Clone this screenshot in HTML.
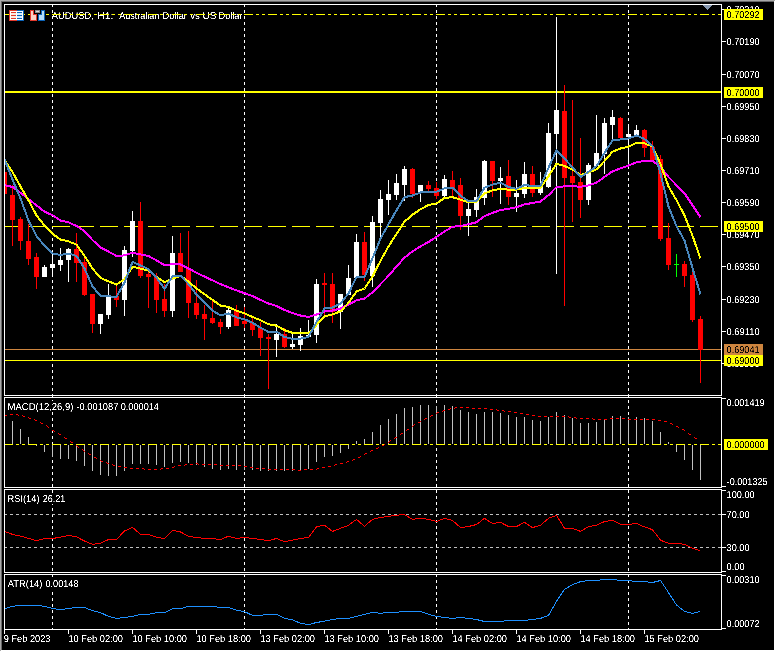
<!DOCTYPE html>
<html lang="en"><head><meta charset="utf-8"><title>AUDUSD, H1</title>
<style>html,body{margin:0;padding:0;background:#000;overflow:hidden}svg{display:block}text{text-rendering:geometricPrecision}</style>
</head><body>
<svg width="776" height="652" viewBox="0 0 776 652" shape-rendering="crispEdges" font-family='"Liberation Sans", sans-serif' font-size="10px">
<rect x="0" y="0" width="776" height="652" fill="#000"/>
<defs><filter id="crisp" x="0" y="0" width="776" height="652" filterUnits="userSpaceOnUse" color-interpolation-filters="sRGB"><feComponentTransfer><feFuncA type="linear" slope="2.5" intercept="-0.6749999999999998"/></feComponentTransfer></filter></defs>
<rect x="0" y="0" width="776" height="1" fill="#a8a8a8"/>
<rect x="0" y="0" width="1" height="652" fill="#a8a8a8"/>
<rect x="1" y="1" width="774" height="1" fill="#696969"/>
<rect x="1" y="1" width="1" height="650" fill="#696969"/>
<rect x="1" y="650" width="775" height="1" fill="#fff"/>
<rect x="0" y="651" width="776" height="1" fill="#fff"/>
<rect x="774" y="1" width="1" height="651" fill="#fff"/>
<rect x="775" y="0" width="1" height="652" fill="#fff"/>
<line x1="52.5" y1="5" x2="52.5" y2="629" stroke="#fff" stroke-width="1" stroke-dasharray="3 3" stroke-dashoffset="1"/>
<line x1="244.5" y1="5" x2="244.5" y2="629" stroke="#fff" stroke-width="1" stroke-dasharray="3 3" stroke-dashoffset="1"/>
<line x1="436.5" y1="5" x2="436.5" y2="629" stroke="#fff" stroke-width="1" stroke-dasharray="3 3" stroke-dashoffset="1"/>
<line x1="628.5" y1="5" x2="628.5" y2="629" stroke="#fff" stroke-width="1" stroke-dasharray="3 3" stroke-dashoffset="1"/>
<rect x="5" y="91" width="716" height="2" fill="#ff0"/>
<line x1="5" y1="226.5" x2="721" y2="226.5" stroke="#ff0" stroke-width="1" stroke-dasharray="18 6" stroke-dashoffset="1"/>
<line x1="5" y1="349.5" x2="721" y2="349.5" stroke="#cd853f" stroke-width="1"/>
<line x1="5" y1="360.5" x2="721" y2="360.5" stroke="#ff0" stroke-width="1"/>
<rect x="4" y="172" width="1" height="22" fill="#f00"/>
<rect x="2" y="172" width="5" height="22" fill="#f00"/>
<rect x="12" y="185" width="1" height="61" fill="#f00"/>
<rect x="10" y="195" width="5" height="25" fill="#f00"/>
<rect x="20" y="217" width="1" height="33" fill="#f00"/>
<rect x="18" y="219" width="5" height="22" fill="#f00"/>
<rect x="28" y="224" width="1" height="41" fill="#f00"/>
<rect x="26" y="241" width="5" height="18" fill="#f00"/>
<rect x="36" y="253" width="1" height="36" fill="#f00"/>
<rect x="34" y="257" width="5" height="20" fill="#f00"/>
<rect x="44" y="265" width="1" height="12" fill="#fff"/>
<rect x="42" y="267" width="5" height="10" fill="#fff"/>
<rect x="52" y="250" width="1" height="27" fill="#fff"/>
<rect x="50" y="264" width="5" height="4" fill="#fff"/>
<rect x="60" y="248" width="1" height="23" fill="#fff"/>
<rect x="58" y="260" width="5" height="5" fill="#fff"/>
<rect x="68" y="248" width="1" height="34" fill="#fff"/>
<rect x="66" y="249" width="5" height="11" fill="#fff"/>
<rect x="76" y="233" width="1" height="49" fill="#f00"/>
<rect x="74" y="249" width="5" height="14" fill="#f00"/>
<rect x="84" y="258" width="1" height="38" fill="#f00"/>
<rect x="82" y="262" width="5" height="33" fill="#f00"/>
<rect x="92" y="294" width="1" height="39" fill="#f00"/>
<rect x="90" y="294" width="5" height="30" fill="#f00"/>
<rect x="100" y="314" width="1" height="20" fill="#fff"/>
<rect x="98" y="314" width="5" height="10" fill="#fff"/>
<rect x="108" y="284" width="1" height="35" fill="#fff"/>
<rect x="106" y="297" width="5" height="18" fill="#fff"/>
<rect x="116" y="286" width="1" height="21" fill="#f00"/>
<rect x="114" y="296" width="5" height="4" fill="#f00"/>
<rect x="124" y="246" width="1" height="70" fill="#fff"/>
<rect x="122" y="250" width="5" height="50" fill="#fff"/>
<rect x="132" y="211" width="1" height="46" fill="#fff"/>
<rect x="130" y="221" width="5" height="30" fill="#fff"/>
<rect x="140" y="202" width="1" height="76" fill="#f00"/>
<rect x="138" y="221" width="5" height="55" fill="#f00"/>
<rect x="148" y="272" width="1" height="36" fill="#f00"/>
<rect x="146" y="274" width="5" height="3" fill="#f00"/>
<rect x="156" y="273" width="1" height="40" fill="#f00"/>
<rect x="154" y="277" width="5" height="23" fill="#f00"/>
<rect x="164" y="284" width="1" height="33" fill="#f00"/>
<rect x="162" y="299" width="5" height="12" fill="#f00"/>
<rect x="172" y="236" width="1" height="81" fill="#fff"/>
<rect x="170" y="253" width="5" height="58" fill="#fff"/>
<rect x="180" y="233" width="1" height="39" fill="#f00"/>
<rect x="178" y="253" width="5" height="19" fill="#f00"/>
<rect x="188" y="231" width="1" height="87" fill="#f00"/>
<rect x="186" y="269" width="5" height="34" fill="#f00"/>
<rect x="196" y="280" width="1" height="39" fill="#f00"/>
<rect x="194" y="303" width="5" height="12" fill="#f00"/>
<rect x="204" y="305" width="1" height="35" fill="#f00"/>
<rect x="202" y="314" width="5" height="5" fill="#f00"/>
<rect x="212" y="301" width="1" height="23" fill="#f00"/>
<rect x="210" y="318" width="5" height="5" fill="#f00"/>
<rect x="220" y="319" width="1" height="15" fill="#f00"/>
<rect x="218" y="322" width="5" height="5" fill="#f00"/>
<rect x="228" y="308" width="1" height="21" fill="#fff"/>
<rect x="226" y="310" width="5" height="17" fill="#fff"/>
<rect x="236" y="305" width="1" height="21" fill="#f00"/>
<rect x="234" y="311" width="5" height="15" fill="#f00"/>
<rect x="244" y="307" width="1" height="21" fill="#f00"/>
<rect x="242" y="321" width="5" height="3" fill="#f00"/>
<rect x="252" y="318" width="1" height="18" fill="#f00"/>
<rect x="250" y="323" width="5" height="7" fill="#f00"/>
<rect x="260" y="322" width="1" height="34" fill="#f00"/>
<rect x="258" y="328" width="5" height="10" fill="#f00"/>
<rect x="268" y="334" width="1" height="55" fill="#f00"/>
<rect x="266" y="337" width="5" height="2" fill="#f00"/>
<rect x="276" y="324" width="1" height="33" fill="#fff"/>
<rect x="274" y="334" width="5" height="6" fill="#fff"/>
<rect x="284" y="328" width="1" height="20" fill="#f00"/>
<rect x="282" y="334" width="5" height="13" fill="#f00"/>
<rect x="292" y="334" width="1" height="15" fill="#fff"/>
<rect x="290" y="344" width="5" height="3" fill="#fff"/>
<rect x="300" y="328" width="1" height="23" fill="#fff"/>
<rect x="298" y="336" width="5" height="9" fill="#fff"/>
<rect x="308" y="320" width="1" height="17" fill="#fff"/>
<rect x="306" y="335" width="5" height="2" fill="#fff"/>
<rect x="316" y="279" width="1" height="64" fill="#fff"/>
<rect x="314" y="284" width="5" height="51" fill="#fff"/>
<rect x="324" y="273" width="1" height="42" fill="#f00"/>
<rect x="322" y="283" width="5" height="2" fill="#f00"/>
<rect x="332" y="273" width="1" height="50" fill="#f00"/>
<rect x="330" y="284" width="5" height="28" fill="#f00"/>
<rect x="340" y="294" width="1" height="35" fill="#fff"/>
<rect x="338" y="294" width="5" height="18" fill="#fff"/>
<rect x="348" y="265" width="1" height="30" fill="#fff"/>
<rect x="346" y="278" width="5" height="17" fill="#fff"/>
<rect x="356" y="234" width="1" height="44" fill="#fff"/>
<rect x="354" y="242" width="5" height="36" fill="#fff"/>
<rect x="364" y="232" width="1" height="49" fill="#f00"/>
<rect x="362" y="242" width="5" height="33" fill="#f00"/>
<rect x="372" y="216" width="1" height="71" fill="#fff"/>
<rect x="370" y="222" width="5" height="54" fill="#fff"/>
<rect x="380" y="190" width="1" height="47" fill="#fff"/>
<rect x="378" y="199" width="5" height="24" fill="#fff"/>
<rect x="388" y="180" width="1" height="35" fill="#fff"/>
<rect x="386" y="194" width="5" height="6" fill="#fff"/>
<rect x="396" y="174" width="1" height="26" fill="#fff"/>
<rect x="394" y="183" width="5" height="12" fill="#fff"/>
<rect x="404" y="166" width="1" height="35" fill="#fff"/>
<rect x="402" y="169" width="5" height="16" fill="#fff"/>
<rect x="412" y="168" width="1" height="30" fill="#f00"/>
<rect x="410" y="169" width="5" height="25" fill="#f00"/>
<rect x="420" y="185" width="1" height="17" fill="#fff"/>
<rect x="418" y="185" width="5" height="7" fill="#fff"/>
<rect x="428" y="181" width="1" height="10" fill="#f00"/>
<rect x="426" y="185" width="5" height="4" fill="#f00"/>
<rect x="436" y="182" width="1" height="17" fill="#f00"/>
<rect x="434" y="188" width="5" height="8" fill="#f00"/>
<rect x="444" y="175" width="1" height="22" fill="#fff"/>
<rect x="442" y="179" width="5" height="17" fill="#fff"/>
<rect x="452" y="171" width="1" height="25" fill="#f00"/>
<rect x="450" y="180" width="5" height="8" fill="#f00"/>
<rect x="460" y="178" width="1" height="52" fill="#f00"/>
<rect x="458" y="185" width="5" height="31" fill="#f00"/>
<rect x="468" y="201" width="1" height="35" fill="#fff"/>
<rect x="466" y="209" width="5" height="7" fill="#fff"/>
<rect x="476" y="189" width="1" height="28" fill="#fff"/>
<rect x="474" y="197" width="5" height="13" fill="#fff"/>
<rect x="484" y="160" width="1" height="45" fill="#fff"/>
<rect x="482" y="161" width="5" height="37" fill="#fff"/>
<rect x="492" y="161" width="1" height="36" fill="#f00"/>
<rect x="490" y="161" width="5" height="20" fill="#f00"/>
<rect x="500" y="167" width="1" height="37" fill="#fff"/>
<rect x="498" y="178" width="5" height="3" fill="#fff"/>
<rect x="508" y="160" width="1" height="45" fill="#f00"/>
<rect x="506" y="176" width="5" height="21" fill="#f00"/>
<rect x="516" y="180" width="1" height="32" fill="#fff"/>
<rect x="514" y="193" width="5" height="4" fill="#fff"/>
<rect x="524" y="162" width="1" height="36" fill="#fff"/>
<rect x="522" y="174" width="5" height="20" fill="#fff"/>
<rect x="532" y="166" width="1" height="31" fill="#f00"/>
<rect x="530" y="174" width="5" height="19" fill="#f00"/>
<rect x="540" y="172" width="1" height="23" fill="#fff"/>
<rect x="538" y="186" width="5" height="7" fill="#fff"/>
<rect x="548" y="123" width="1" height="65" fill="#fff"/>
<rect x="546" y="133" width="5" height="54" fill="#fff"/>
<rect x="556" y="17" width="1" height="257" fill="#fff"/>
<rect x="554" y="110" width="5" height="24" fill="#fff"/>
<rect x="564" y="85" width="1" height="221" fill="#f00"/>
<rect x="562" y="111" width="5" height="67" fill="#f00"/>
<rect x="572" y="100" width="1" height="122" fill="#f00"/>
<rect x="570" y="176" width="5" height="7" fill="#f00"/>
<rect x="580" y="138" width="1" height="80" fill="#f00"/>
<rect x="578" y="182" width="5" height="18" fill="#f00"/>
<rect x="588" y="163" width="1" height="42" fill="#fff"/>
<rect x="586" y="165" width="5" height="35" fill="#fff"/>
<rect x="596" y="115" width="1" height="51" fill="#fff"/>
<rect x="594" y="153" width="5" height="13" fill="#fff"/>
<rect x="604" y="118" width="1" height="56" fill="#fff"/>
<rect x="602" y="123" width="5" height="31" fill="#fff"/>
<rect x="612" y="110" width="1" height="29" fill="#fff"/>
<rect x="610" y="117" width="5" height="8" fill="#fff"/>
<rect x="620" y="117" width="1" height="21" fill="#f00"/>
<rect x="618" y="118" width="5" height="20" fill="#f00"/>
<rect x="628" y="124" width="1" height="40" fill="#fff"/>
<rect x="626" y="134" width="5" height="3" fill="#fff"/>
<rect x="636" y="125" width="1" height="10" fill="#fff"/>
<rect x="634" y="130" width="5" height="5" fill="#fff"/>
<rect x="644" y="129" width="1" height="28" fill="#f00"/>
<rect x="642" y="130" width="5" height="18" fill="#f00"/>
<rect x="652" y="141" width="1" height="19" fill="#f00"/>
<rect x="650" y="147" width="5" height="13" fill="#f00"/>
<rect x="660" y="155" width="1" height="86" fill="#f00"/>
<rect x="658" y="159" width="5" height="80" fill="#f00"/>
<rect x="668" y="223" width="1" height="47" fill="#f00"/>
<rect x="666" y="238" width="5" height="27" fill="#f00"/>
<rect x="676" y="254" width="1" height="23" fill="#0f0"/>
<rect x="674" y="264" width="5" height="1" fill="#0f0"/>
<rect x="684" y="261" width="1" height="26" fill="#f00"/>
<rect x="682" y="264" width="5" height="12" fill="#f00"/>
<rect x="692" y="272" width="1" height="50" fill="#f00"/>
<rect x="690" y="275" width="5" height="45" fill="#f00"/>
<rect x="700" y="316" width="1" height="67" fill="#f00"/>
<rect x="698" y="319" width="5" height="31" fill="#f00"/>
<polyline points="5.0,185.2 12.5,187.0 20.5,192.8 28.5,199.0 36.5,205.4 44.5,211.6 52.5,215.2 60.5,220.5 68.5,222.3 76.5,226.0 84.5,231.2 92.5,240.0 100.5,247.6 108.5,251.6 116.5,256.0 124.5,255.4 132.5,252.8 140.5,254.4 148.5,256.0 156.5,260.4 164.5,265.2 172.5,264.2 180.5,264.5 188.5,268.4 196.5,272.8 204.5,276.6 212.5,280.4 220.5,284.1 228.5,287.3 236.5,290.4 244.5,293.2 252.5,296.0 260.5,299.9 268.5,303.5 276.5,306.0 284.5,310.0 292.5,313.0 300.5,315.5 308.5,317.0 316.5,314.5 324.5,311.5 332.5,310.5 340.5,308.5 348.5,304.7 356.5,300.3 364.5,298.6 372.5,292.3 380.5,284.1 388.5,275.9 396.5,266.5 404.5,257.7 412.5,251.4 420.5,246.4 428.5,242.0 436.5,236.8 444.5,231.5 452.5,226.7 460.5,226.1 468.5,224.2 476.5,222.3 484.5,216.1 492.5,212.9 500.5,210.1 508.5,208.9 516.5,207.2 524.5,204.4 532.5,203.0 540.5,201.5 548.5,195.2 556.5,187.0 564.5,186.4 572.5,186.2 580.5,186.8 588.5,185.4 596.5,182.6 604.5,177.0 612.5,171.3 620.5,168.4 628.5,165.5 636.5,162.3 644.5,161.0 652.5,160.7 660.5,167.0 668.5,177.0 676.5,185.1 684.5,193.3 692.5,205.2 700.5,217.2" fill="none" stroke="#f0f" stroke-width="2"/>
<polyline points="5.0,161.0 12.5,172.0 20.5,186.5 28.5,200.3 36.5,215.4 44.5,225.5 52.5,233.9 60.5,239.5 68.5,241.4 76.5,244.6 84.5,255.9 92.5,268.5 100.5,278.0 108.5,281.3 116.5,284.5 124.5,279.4 132.5,266.7 140.5,268.6 148.5,270.5 156.5,276.8 164.5,282.0 172.5,278.8 180.5,275.7 188.5,281.6 196.5,288.5 204.5,294.2 212.5,299.9 220.5,305.5 228.5,307.0 236.5,310.8 244.5,313.3 252.5,317.0 260.5,320.2 268.5,324.2 276.5,325.7 284.5,330.1 292.5,332.9 300.5,333.5 308.5,333.3 316.5,325.1 324.5,316.3 332.5,314.4 340.5,311.3 348.5,302.9 356.5,291.5 364.5,288.5 372.5,276.6 380.5,260.8 388.5,246.4 396.5,234.0 404.5,221.7 412.5,214.7 420.5,209.3 428.5,205.0 436.5,203.4 444.5,198.0 452.5,197.2 460.5,199.7 468.5,202.2 476.5,201.6 484.5,193.4 492.5,190.3 500.5,189.0 508.5,189.6 516.5,189.6 524.5,188.0 532.5,187.8 540.5,187.7 548.5,176.4 556.5,163.7 564.5,166.0 572.5,169.6 580.5,175.0 588.5,172.6 596.5,169.4 604.5,161.0 612.5,151.7 620.5,148.5 628.5,146.6 636.5,142.8 644.5,143.4 652.5,146.6 660.5,164.0 668.5,186.4 676.5,200.2 684.5,215.3 692.5,235.8 700.5,258.5" fill="none" stroke="#ff0" stroke-width="2"/>
<polyline points="4.5,159.4 12.5,179.6 20.5,198.4 28.5,220.5 36.5,236.0 44.5,245.8 52.5,253.4 60.5,255.0 68.5,253.6 76.5,255.9 84.5,268.5 92.5,286.5 100.5,295.8 108.5,296.4 116.5,296.7 124.5,282.6 132.5,261.9 140.5,265.4 148.5,269.2 156.5,277.7 164.5,288.9 172.5,276.3 180.5,275.7 188.5,284.1 196.5,294.8 204.5,302.4 212.5,310.8 220.5,315.2 228.5,313.5 236.5,317.3 244.5,319.3 252.5,322.7 260.5,327.8 268.5,331.9 276.5,331.6 284.5,337.0 292.5,338.9 300.5,338.7 308.5,337.0 316.5,322.0 324.5,308.5 332.5,307.5 340.5,303.5 348.5,293.4 356.5,277.0 364.5,277.2 372.5,258.3 380.5,238.7 388.5,224.2 396.5,210.3 404.5,197.1 412.5,195.5 420.5,192.5 428.5,191.7 436.5,191.7 444.5,188.4 452.5,187.7 460.5,195.9 468.5,201.0 476.5,201.0 484.5,187.7 492.5,184.6 500.5,182.7 508.5,187.1 516.5,188.8 524.5,185.0 532.5,186.0 540.5,185.8 548.5,167.8 556.5,150.4 564.5,158.6 572.5,167.4 580.5,177.0 588.5,172.0 596.5,166.2 604.5,152.9 612.5,140.3 620.5,139.4 628.5,138.4 636.5,135.5 644.5,139.0 652.5,146.0 660.5,173.4 668.5,206.5 676.5,226.2 684.5,240.6 692.5,268.0 700.5,294.5" fill="none" stroke="#4886bc" stroke-width="2"/>
<line x1="5" y1="444.5" x2="721" y2="444.5" stroke="#ff0" stroke-width="1" stroke-dasharray="9 3 3 3 3 3" stroke-dashoffset="1"/>
<rect x="12" y="421" width="1" height="23" fill="#c0c0c0"/>
<rect x="20" y="429" width="1" height="15" fill="#c0c0c0"/>
<rect x="28" y="437" width="1" height="7" fill="#c0c0c0"/>
<rect x="36" y="445" width="1" height="1" fill="#c0c0c0"/>
<rect x="44" y="445" width="1" height="7" fill="#c0c0c0"/>
<rect x="52" y="445" width="1" height="12" fill="#c0c0c0"/>
<rect x="60" y="445" width="1" height="14" fill="#c0c0c0"/>
<rect x="68" y="445" width="1" height="14" fill="#c0c0c0"/>
<rect x="76" y="445" width="1" height="16" fill="#c0c0c0"/>
<rect x="84" y="445" width="1" height="21" fill="#c0c0c0"/>
<rect x="92" y="445" width="1" height="26" fill="#c0c0c0"/>
<rect x="100" y="445" width="1" height="30" fill="#c0c0c0"/>
<rect x="108" y="445" width="1" height="31" fill="#c0c0c0"/>
<rect x="116" y="445" width="1" height="31" fill="#c0c0c0"/>
<rect x="124" y="445" width="1" height="26" fill="#c0c0c0"/>
<rect x="132" y="445" width="1" height="19" fill="#c0c0c0"/>
<rect x="140" y="445" width="1" height="19" fill="#c0c0c0"/>
<rect x="148" y="445" width="1" height="19" fill="#c0c0c0"/>
<rect x="156" y="445" width="1" height="20" fill="#c0c0c0"/>
<rect x="164" y="445" width="1" height="22" fill="#c0c0c0"/>
<rect x="172" y="445" width="1" height="18" fill="#c0c0c0"/>
<rect x="180" y="445" width="1" height="17" fill="#c0c0c0"/>
<rect x="188" y="445" width="1" height="18" fill="#c0c0c0"/>
<rect x="196" y="445" width="1" height="20" fill="#c0c0c0"/>
<rect x="204" y="445" width="1" height="22" fill="#c0c0c0"/>
<rect x="212" y="445" width="1" height="24" fill="#c0c0c0"/>
<rect x="220" y="445" width="1" height="25" fill="#c0c0c0"/>
<rect x="228" y="445" width="1" height="24" fill="#c0c0c0"/>
<rect x="236" y="445" width="1" height="25" fill="#c0c0c0"/>
<rect x="244" y="445" width="1" height="25" fill="#c0c0c0"/>
<rect x="252" y="445" width="1" height="25" fill="#c0c0c0"/>
<rect x="260" y="445" width="1" height="26" fill="#c0c0c0"/>
<rect x="268" y="445" width="1" height="26" fill="#c0c0c0"/>
<rect x="276" y="445" width="1" height="26" fill="#c0c0c0"/>
<rect x="284" y="445" width="1" height="26" fill="#c0c0c0"/>
<rect x="292" y="445" width="1" height="26" fill="#c0c0c0"/>
<rect x="300" y="445" width="1" height="25" fill="#c0c0c0"/>
<rect x="308" y="445" width="1" height="24" fill="#c0c0c0"/>
<rect x="316" y="445" width="1" height="17" fill="#c0c0c0"/>
<rect x="324" y="445" width="1" height="12" fill="#c0c0c0"/>
<rect x="332" y="445" width="1" height="11" fill="#c0c0c0"/>
<rect x="340" y="445" width="1" height="8" fill="#c0c0c0"/>
<rect x="348" y="445" width="1" height="4" fill="#c0c0c0"/>
<rect x="356" y="441" width="1" height="3" fill="#c0c0c0"/>
<rect x="364" y="439" width="1" height="5" fill="#c0c0c0"/>
<rect x="372" y="432" width="1" height="12" fill="#c0c0c0"/>
<rect x="380" y="425" width="1" height="19" fill="#c0c0c0"/>
<rect x="388" y="419" width="1" height="25" fill="#c0c0c0"/>
<rect x="396" y="414" width="1" height="30" fill="#c0c0c0"/>
<rect x="404" y="408" width="1" height="36" fill="#c0c0c0"/>
<rect x="412" y="407" width="1" height="37" fill="#c0c0c0"/>
<rect x="420" y="405" width="1" height="39" fill="#c0c0c0"/>
<rect x="428" y="405" width="1" height="39" fill="#c0c0c0"/>
<rect x="436" y="406" width="1" height="38" fill="#c0c0c0"/>
<rect x="444" y="405" width="1" height="39" fill="#c0c0c0"/>
<rect x="452" y="406" width="1" height="38" fill="#c0c0c0"/>
<rect x="460" y="410" width="1" height="34" fill="#c0c0c0"/>
<rect x="468" y="412" width="1" height="32" fill="#c0c0c0"/>
<rect x="476" y="414" width="1" height="30" fill="#c0c0c0"/>
<rect x="484" y="412" width="1" height="32" fill="#c0c0c0"/>
<rect x="492" y="412" width="1" height="32" fill="#c0c0c0"/>
<rect x="500" y="413" width="1" height="31" fill="#c0c0c0"/>
<rect x="508" y="415" width="1" height="29" fill="#c0c0c0"/>
<rect x="516" y="417" width="1" height="27" fill="#c0c0c0"/>
<rect x="524" y="417" width="1" height="27" fill="#c0c0c0"/>
<rect x="532" y="420" width="1" height="24" fill="#c0c0c0"/>
<rect x="540" y="421" width="1" height="23" fill="#c0c0c0"/>
<rect x="548" y="417" width="1" height="27" fill="#c0c0c0"/>
<rect x="556" y="412" width="1" height="32" fill="#c0c0c0"/>
<rect x="564" y="415" width="1" height="29" fill="#c0c0c0"/>
<rect x="572" y="418" width="1" height="26" fill="#c0c0c0"/>
<rect x="580" y="423" width="1" height="21" fill="#c0c0c0"/>
<rect x="588" y="423" width="1" height="21" fill="#c0c0c0"/>
<rect x="596" y="422" width="1" height="22" fill="#c0c0c0"/>
<rect x="604" y="420" width="1" height="24" fill="#c0c0c0"/>
<rect x="612" y="416" width="1" height="28" fill="#c0c0c0"/>
<rect x="620" y="416" width="1" height="28" fill="#c0c0c0"/>
<rect x="628" y="417" width="1" height="27" fill="#c0c0c0"/>
<rect x="636" y="417" width="1" height="27" fill="#c0c0c0"/>
<rect x="644" y="418" width="1" height="26" fill="#c0c0c0"/>
<rect x="652" y="421" width="1" height="23" fill="#c0c0c0"/>
<rect x="660" y="432" width="1" height="12" fill="#c0c0c0"/>
<rect x="668" y="442" width="1" height="2" fill="#c0c0c0"/>
<rect x="676" y="445" width="1" height="7" fill="#c0c0c0"/>
<rect x="684" y="445" width="1" height="15" fill="#c0c0c0"/>
<rect x="692" y="445" width="1" height="25" fill="#c0c0c0"/>
<rect x="700" y="445" width="1" height="35" fill="#c0c0c0"/>
<path d="M5,415h2v1h-2zM10,414h3v1h-3zM16,414h2v1h-2zM18,415h1v1h-1zM22,415h1v1h-1zM23,416h2v1h-2zM28,417h1v1h-1zM29,418h2v1h-2zM34,419h1v1h-1zM35,420h2v1h-2zM40,422h1v1h-1zM41,423h2v1h-2zM46,425h1v1h-1zM47,426h1v1h-1zM48,427h1v1h-1zM52,430h2v1h-2zM54,431h1v1h-1zM58,433h1v1h-1zM59,434h2v1h-2zM64,437h1v1h-1zM65,438h2v1h-2zM70,441h1v1h-1zM71,442h2v1h-2zM76,445h1v1h-1zM77,446h1v1h-1zM78,447h1v1h-1zM82,449h1v1h-1zM83,450h1v1h-1zM84,451h1v1h-1zM88,453h1v1h-1zM89,454h2v1h-2zM94,457h2v1h-2zM96,458h1v1h-1zM100,460h1v1h-1zM101,461h2v1h-2zM106,462h1v1h-1zM107,463h2v1h-2zM112,464h1v1h-1zM113,465h2v1h-2zM118,466h3v1h-3zM124,467h3v1h-3zM130,468h3v1h-3zM136,468h3v1h-3zM142,468h2v1h-2zM144,469h1v1h-1zM148,469h3v1h-3zM154,469h3v1h-3zM160,469h1v1h-1zM161,468h2v1h-2zM166,468h3v1h-3zM172,467h2v1h-2zM174,466h1v1h-1zM178,465h3v1h-3zM184,465h1v1h-1zM185,464h2v1h-2zM190,464h3v1h-3zM196,463h2v1h-2zM198,464h1v1h-1zM202,464h3v1h-3zM208,464h3v1h-3zM214,464h3v1h-3zM220,465h3v1h-3zM226,465h3v1h-3zM232,465h3v1h-3zM238,465h3v1h-3zM244,466h3v1h-3zM250,467h3v1h-3zM256,468h3v1h-3zM262,468h3v1h-3zM268,469h3v1h-3zM274,469h3v1h-3zM280,469h3v1h-3zM286,469h3v1h-3zM292,469h3v1h-3zM298,470h3v1h-3zM304,469h3v1h-3zM310,469h3v1h-3zM316,469h1v1h-1zM317,468h2v1h-2zM322,467h3v1h-3zM328,466h3v1h-3zM334,465h1v1h-1zM335,464h2v1h-2zM340,463h3v1h-3zM346,462h1v1h-1zM347,461h2v1h-2zM352,460h1v1h-1zM353,459h2v1h-2zM358,457h2v1h-2zM360,456h1v1h-1zM364,454h1v1h-1zM365,453h2v1h-2zM370,451h1v1h-1zM371,450h2v1h-2zM376,448h2v1h-2zM378,447h1v1h-1zM382,445h2v1h-2zM384,444h1v1h-1zM388,442h1v1h-1zM389,441h1v1h-1zM390,440h1v1h-1zM394,438h1v1h-1zM395,437h2v1h-2zM400,434h1v1h-1zM401,433h2v1h-2zM406,430h1v1h-1zM407,429h2v1h-2zM412,426h1v1h-1zM413,425h1v1h-1zM414,424h1v1h-1zM418,422h2v1h-2zM420,421h1v1h-1zM424,419h1v1h-1zM425,418h2v1h-2zM430,416h1v1h-1zM431,415h2v1h-2zM436,413h1v1h-1zM437,412h2v1h-2zM442,411h1v1h-1zM443,410h2v1h-2zM448,409h2v1h-2zM450,408h1v1h-1zM454,408h1v1h-1zM455,407h2v1h-2zM460,407h3v1h-3zM466,407h3v1h-3zM472,408h3v1h-3zM478,408h3v1h-3zM484,408h3v1h-3zM490,409h3v1h-3zM496,409h1v1h-1zM497,410h2v1h-2zM502,410h2v1h-2zM504,411h1v1h-1zM508,411h3v1h-3zM514,412h3v1h-3zM520,413h3v1h-3zM526,414h3v1h-3zM532,415h3v1h-3zM538,416h3v1h-3zM544,416h3v1h-3zM550,416h3v1h-3zM556,416h3v1h-3zM562,416h3v1h-3zM568,416h1v1h-1zM569,417h2v1h-2zM574,417h2v1h-2zM576,418h1v1h-1zM580,418h3v1h-3zM586,418h3v1h-3zM592,418h1v1h-1zM593,419h2v1h-2zM598,419h3v1h-3zM604,419h3v1h-3zM610,418h3v1h-3zM616,418h3v1h-3zM622,418h3v1h-3zM628,419h3v1h-3zM634,419h3v1h-3zM640,419h3v1h-3zM646,419h3v1h-3zM652,419h3v1h-3zM658,420h3v1h-3zM664,421h3v1h-3zM670,423h2v1h-2zM672,424h1v1h-1zM676,426h2v1h-2zM678,427h1v1h-1zM682,429h2v1h-2zM684,430h1v1h-1zM688,433h1v1h-1zM689,434h2v1h-2zM694,437h1v1h-1zM695,438h2v1h-2z" fill="#f00"/>
<line x1="5" y1="514.5" x2="721" y2="514.5" stroke="#c0c0c0" stroke-width="1" stroke-dasharray="3 3" stroke-dashoffset="1"/>
<line x1="5" y1="547.5" x2="721" y2="547.5" stroke="#c0c0c0" stroke-width="1" stroke-dasharray="3 3" stroke-dashoffset="1"/>
<polyline points="4.5,531.4 12.5,534.4 20.5,536.1 28.5,538.3 36.5,540.6 44.5,538.5 52.5,538.5 60.5,537.2 68.5,535.4 76.5,536.9 84.5,541.0 92.5,544.3 100.5,543.3 108.5,539.5 116.5,539.5 124.5,531.0 132.5,527.3 140.5,534.4 148.5,534.4 156.5,537.2 164.5,538.5 172.5,530.3 180.5,532.0 188.5,536.2 196.5,537.5 204.5,538.5 212.5,538.5 220.5,539.6 228.5,536.2 236.5,538.5 244.5,537.5 252.5,538.5 260.5,539.5 268.5,540.6 276.5,538.5 284.5,541.6 292.5,540.2 300.5,538.5 308.5,537.5 316.5,526.7 324.5,525.3 332.5,531.4 340.5,528.3 348.5,525.3 356.5,519.4 364.5,526.3 372.5,519.4 380.5,517.4 388.5,516.4 396.5,515.3 404.5,514.5 412.5,519.4 420.5,518.3 428.5,519.4 436.5,521.5 444.5,518.3 452.5,520.4 460.5,527.6 468.5,526.5 476.5,524.5 484.5,518.3 492.5,523.5 500.5,522.4 508.5,526.5 516.5,526.5 524.5,522.4 532.5,527.6 540.5,525.3 548.5,518.3 556.5,515.3 564.5,528.3 572.5,528.3 580.5,531.4 588.5,526.7 596.5,525.2 604.5,521.5 612.5,520.4 620.5,524.2 628.5,524.5 636.5,523.5 644.5,526.9 652.5,529.7 660.5,540.2 668.5,543.3 676.5,543.3 684.5,544.3 692.5,548.1 700.0,550.6" fill="none" stroke="#f00" stroke-width="1"/>
<polyline points="4.5,608.6 12.5,606.4 20.5,605.2 28.5,605.2 36.5,605.2 44.5,606.4 52.5,608.5 60.5,609.6 68.5,608.5 76.5,607.5 84.5,607.5 92.5,610.7 100.5,612.6 108.5,616.4 116.5,618.4 124.5,617.5 132.5,616.4 140.5,614.3 148.5,614.3 156.5,612.6 164.5,612.6 172.5,608.6 180.5,608.6 188.5,606.4 196.5,606.4 204.5,606.4 212.5,606.4 220.5,607.5 228.5,607.5 236.5,610.3 244.5,611.6 252.5,615.4 260.5,615.4 268.5,614.3 276.5,614.3 284.5,618.4 292.5,619.8 300.5,623.3 308.5,624.6 316.5,622.5 324.5,621.2 332.5,619.4 340.5,618.4 348.5,618.4 356.5,616.4 364.5,614.3 372.5,612.3 380.5,613.4 388.5,612.3 396.5,612.3 404.5,611.5 412.5,611.6 420.5,611.6 428.5,614.3 436.5,616.4 444.5,617.5 452.5,618.4 460.5,617.5 468.5,618.4 476.5,619.5 484.5,621.5 492.5,621.5 500.5,621.5 508.5,620.5 516.5,620.5 524.5,620.5 532.5,619.4 540.5,618.4 548.5,615.4 556.5,601.4 564.5,589.3 572.5,584.7 580.5,581.6 588.5,580.5 596.5,580.5 604.5,579.5 612.5,579.5 620.5,580.5 628.5,580.5 636.5,581.6 644.5,581.6 652.5,582.5 660.5,580.5 668.5,592.6 676.5,605.0 684.5,611.3 692.5,613.4 700.0,611.6" fill="none" stroke="#1e90ff" stroke-width="1"/>
<rect x="2" y="2" width="2" height="648" fill="#000"/>
<line x1="4" y1="4.5" x2="722" y2="4.5" stroke="#fff" stroke-width="1"/>
<line x1="4" y1="395.5" x2="722" y2="395.5" stroke="#fff" stroke-width="1"/>
<line x1="4.5" y1="4" x2="4.5" y2="396" stroke="#fff" stroke-width="1"/>
<line x1="721.5" y1="4" x2="721.5" y2="396" stroke="#fff" stroke-width="1"/>
<line x1="4" y1="397.5" x2="722" y2="397.5" stroke="#fff" stroke-width="1"/>
<line x1="4" y1="487.5" x2="722" y2="487.5" stroke="#fff" stroke-width="1"/>
<line x1="4.5" y1="397" x2="4.5" y2="488" stroke="#fff" stroke-width="1"/>
<line x1="721.5" y1="397" x2="721.5" y2="488" stroke="#fff" stroke-width="1"/>
<line x1="4" y1="489.5" x2="722" y2="489.5" stroke="#fff" stroke-width="1"/>
<line x1="4" y1="572.5" x2="722" y2="572.5" stroke="#fff" stroke-width="1"/>
<line x1="4.5" y1="489" x2="4.5" y2="573" stroke="#fff" stroke-width="1"/>
<line x1="721.5" y1="489" x2="721.5" y2="573" stroke="#fff" stroke-width="1"/>
<line x1="4" y1="574.5" x2="722" y2="574.5" stroke="#fff" stroke-width="1"/>
<line x1="4" y1="629.5" x2="722" y2="629.5" stroke="#fff" stroke-width="1"/>
<line x1="4.5" y1="574" x2="4.5" y2="630" stroke="#fff" stroke-width="1"/>
<line x1="721.5" y1="574" x2="721.5" y2="630" stroke="#fff" stroke-width="1"/>
<polygon points="702.5,5 712.5,5 707.5,10" fill="#8798b0"/>
<text y="19" fill="#fff" stroke="#fff" stroke-width="0" filter="url(#crisp)"><tspan x="51.8" textLength="42" lengthAdjust="spacingAndGlyphs">AUDUSD,</tspan> <tspan x="97.2" textLength="16.3" lengthAdjust="spacingAndGlyphs">H1:</tspan> <tspan x="119.3" textLength="40" lengthAdjust="spacingAndGlyphs">Australian</tspan> <tspan x="162.5" textLength="24.5" lengthAdjust="spacingAndGlyphs">Dollar</tspan> <tspan x="190.2" textLength="9.6" lengthAdjust="spacingAndGlyphs">vs</tspan> <tspan x="202.4" textLength="14.2" lengthAdjust="spacingAndGlyphs">US</tspan> <tspan x="218.5" textLength="24" lengthAdjust="spacingAndGlyphs">Dollar</tspan></text>
<line x1="5" y1="14.5" x2="721" y2="14.5" stroke="#ff0" stroke-width="1" stroke-dasharray="9 3 3 3 3 3" stroke-dashoffset="1"/>
<g>
<rect x="10" y="11" width="13" height="9" fill="#fff"/>
<rect x="11" y="12" width="5" height="7" fill="#fde9e2"/>
<rect x="17" y="12" width="5" height="7" fill="#d6ecff"/>
<path d="M16.5,10.5H9.5V20.5H16.5" fill="none" stroke="#e2392b"/>
<path d="M16.5,10.5H23.5V20.5H16.5" fill="none" stroke="#0b62b6"/>
<rect x="11" y="12" width="5" height="1" fill="#e2392b"/><rect x="11" y="15" width="5" height="1" fill="#e2392b"/><rect x="11" y="18" width="5" height="1" fill="#e2392b"/>
<rect x="17" y="12" width="5" height="1" fill="#0b62b6"/><rect x="17" y="15" width="5" height="1" fill="#0b62b6"/><rect x="17" y="18" width="5" height="1" fill="#0b62b6"/>
<polygon points="30.5,10.5 33.5,10.5 33.5,14.5 36.5,14.5 36.5,20.5 30.5,20.5" fill="#f9d2c4" stroke="#e2392b"/>
<polygon points="41.5,10.5 44.5,10.5 44.5,20.5 38.5,20.5 38.5,14.5 41.5,14.5" fill="#b4dcfa" stroke="#0b62b6"/>
<rect x="35" y="10" width="5" height="3" fill="#8c8c8c"/><rect x="36" y="11" width="3" height="1" fill="#e0e0e0"/>
</g>
<rect x="5" y="401" width="156" height="11" fill="#000"/>
<text y="410" fill="#fff" stroke="#fff" stroke-width="0" filter="url(#crisp)"><tspan x="7.6" textLength="65.8" lengthAdjust="spacingAndGlyphs">MACD(12,26,9)</tspan> <tspan x="76.5" textLength="41.8" lengthAdjust="spacingAndGlyphs">-0.001087</tspan> <tspan x="120.7" textLength="38.3" lengthAdjust="spacingAndGlyphs">0.000014</tspan></text>
<rect x="5" y="493" width="62" height="11" fill="#000"/>
<text y="502" fill="#fff" stroke="#fff" stroke-width="0" filter="url(#crisp)"><tspan x="7.5" textLength="32" lengthAdjust="spacingAndGlyphs">RSI(14)</tspan> <tspan x="42.7" textLength="22.6" lengthAdjust="spacingAndGlyphs">26.21</tspan></text>
<rect x="5" y="578" width="75" height="11" fill="#000"/>
<text y="587" fill="#fff" stroke="#fff" stroke-width="0" filter="url(#crisp)"><tspan x="7.8" textLength="34.6" lengthAdjust="spacingAndGlyphs">ATR(14)</tspan> <tspan x="45.5" textLength="33" lengthAdjust="spacingAndGlyphs">0.00148</tspan></text>
<line x1="722" y1="9.5" x2="726" y2="9.5" stroke="#fff" stroke-width="1"/>
<text x="726.6" y="13" fill="#fff" stroke="#fff" stroke-width="0" textLength="33" lengthAdjust="spacingAndGlyphs" filter="url(#crisp)" xml:space="preserve">0.70310</text>
<line x1="722" y1="41.5" x2="726" y2="41.5" stroke="#fff" stroke-width="1"/>
<text x="726.6" y="45" fill="#fff" stroke="#fff" stroke-width="0" textLength="33" lengthAdjust="spacingAndGlyphs" filter="url(#crisp)" xml:space="preserve">0.70190</text>
<line x1="722" y1="74.5" x2="726" y2="74.5" stroke="#fff" stroke-width="1"/>
<text x="726.6" y="78" fill="#fff" stroke="#fff" stroke-width="0" textLength="33" lengthAdjust="spacingAndGlyphs" filter="url(#crisp)" xml:space="preserve">0.70070</text>
<line x1="722" y1="106.5" x2="726" y2="106.5" stroke="#fff" stroke-width="1"/>
<text x="726.6" y="110" fill="#fff" stroke="#fff" stroke-width="0" textLength="33" lengthAdjust="spacingAndGlyphs" filter="url(#crisp)" xml:space="preserve">0.69950</text>
<line x1="722" y1="138.5" x2="726" y2="138.5" stroke="#fff" stroke-width="1"/>
<text x="726.6" y="142" fill="#fff" stroke="#fff" stroke-width="0" textLength="33" lengthAdjust="spacingAndGlyphs" filter="url(#crisp)" xml:space="preserve">0.69830</text>
<line x1="722" y1="170.5" x2="726" y2="170.5" stroke="#fff" stroke-width="1"/>
<text x="726.6" y="174" fill="#fff" stroke="#fff" stroke-width="0" textLength="33" lengthAdjust="spacingAndGlyphs" filter="url(#crisp)" xml:space="preserve">0.69710</text>
<line x1="722" y1="202.5" x2="726" y2="202.5" stroke="#fff" stroke-width="1"/>
<text x="726.6" y="206" fill="#fff" stroke="#fff" stroke-width="0" textLength="33" lengthAdjust="spacingAndGlyphs" filter="url(#crisp)" xml:space="preserve">0.69590</text>
<line x1="722" y1="234.5" x2="726" y2="234.5" stroke="#fff" stroke-width="1"/>
<text x="726.6" y="238" fill="#fff" stroke="#fff" stroke-width="0" textLength="33" lengthAdjust="spacingAndGlyphs" filter="url(#crisp)" xml:space="preserve">0.69470</text>
<line x1="722" y1="266.5" x2="726" y2="266.5" stroke="#fff" stroke-width="1"/>
<text x="726.6" y="270" fill="#fff" stroke="#fff" stroke-width="0" textLength="33" lengthAdjust="spacingAndGlyphs" filter="url(#crisp)" xml:space="preserve">0.69350</text>
<line x1="722" y1="299.5" x2="726" y2="299.5" stroke="#fff" stroke-width="1"/>
<text x="726.6" y="303" fill="#fff" stroke="#fff" stroke-width="0" textLength="33" lengthAdjust="spacingAndGlyphs" filter="url(#crisp)" xml:space="preserve">0.69230</text>
<line x1="722" y1="331.5" x2="726" y2="331.5" stroke="#fff" stroke-width="1"/>
<text x="726.6" y="335" fill="#fff" stroke="#fff" stroke-width="0" textLength="33" lengthAdjust="spacingAndGlyphs" filter="url(#crisp)" xml:space="preserve">0.69110</text>
<line x1="722" y1="363.5" x2="726" y2="363.5" stroke="#fff" stroke-width="1"/>
<text x="726.6" y="367" fill="#fff" stroke="#fff" stroke-width="0" textLength="33" lengthAdjust="spacingAndGlyphs" filter="url(#crisp)" xml:space="preserve">0.68990</text>
<rect x="724" y="9" width="39" height="11" fill="#ff0"/>
<text x="726.6" y="18" fill="#000" stroke="#000" stroke-width="0" textLength="33" lengthAdjust="spacingAndGlyphs" filter="url(#crisp)" xml:space="preserve">0.70292</text>
<rect x="724" y="87" width="39" height="11" fill="#ff0"/>
<text x="726.6" y="96" fill="#000" stroke="#000" stroke-width="0" textLength="33" lengthAdjust="spacingAndGlyphs" filter="url(#crisp)" xml:space="preserve">0.70000</text>
<rect x="724" y="221" width="39" height="11" fill="#ff0"/>
<text x="726.6" y="230" fill="#000" stroke="#000" stroke-width="0" textLength="33" lengthAdjust="spacingAndGlyphs" filter="url(#crisp)" xml:space="preserve">0.69500</text>
<rect x="724" y="344" width="39" height="11" fill="#cd853f"/>
<text x="726.6" y="353" fill="#000" stroke="#000" stroke-width="0" textLength="33" lengthAdjust="spacingAndGlyphs" filter="url(#crisp)" xml:space="preserve">0.69041</text>
<rect x="724" y="355" width="39" height="11" fill="#ff0"/>
<text x="726.6" y="364" fill="#000" stroke="#000" stroke-width="0" textLength="33" lengthAdjust="spacingAndGlyphs" filter="url(#crisp)" xml:space="preserve">0.69000</text>
<line x1="722" y1="398.5" x2="726" y2="398.5" stroke="#fff" stroke-width="1"/>
<text x="726.6" y="406" fill="#fff" stroke="#fff" stroke-width="0" textLength="38" lengthAdjust="spacingAndGlyphs" filter="url(#crisp)" xml:space="preserve">0.001419</text>
<line x1="722" y1="486.5" x2="726" y2="486.5" stroke="#fff" stroke-width="1"/>
<text x="726.6" y="485" fill="#fff" stroke="#fff" stroke-width="0" textLength="41" lengthAdjust="spacingAndGlyphs" filter="url(#crisp)" xml:space="preserve">-0.001325</text>
<rect x="724" y="439" width="44" height="11" fill="#ff0"/>
<text x="726.6" y="448" fill="#000" stroke="#000" stroke-width="0" textLength="38" lengthAdjust="spacingAndGlyphs" filter="url(#crisp)" xml:space="preserve">0.000000</text>
<line x1="722" y1="490.5" x2="726" y2="490.5" stroke="#fff" stroke-width="1"/>
<text x="726.6" y="498" fill="#fff" stroke="#fff" stroke-width="0" textLength="28" lengthAdjust="spacingAndGlyphs" filter="url(#crisp)" xml:space="preserve">100.00</text>
<line x1="722" y1="514.5" x2="726" y2="514.5" stroke="#fff" stroke-width="1"/>
<text x="726.6" y="518" fill="#fff" stroke="#fff" stroke-width="0" textLength="23" lengthAdjust="spacingAndGlyphs" filter="url(#crisp)" xml:space="preserve">70.00</text>
<line x1="722" y1="547.5" x2="726" y2="547.5" stroke="#fff" stroke-width="1"/>
<text x="726.6" y="551" fill="#fff" stroke="#fff" stroke-width="0" textLength="23" lengthAdjust="spacingAndGlyphs" filter="url(#crisp)" xml:space="preserve">30.00</text>
<line x1="722" y1="571.5" x2="726" y2="571.5" stroke="#fff" stroke-width="1"/>
<text x="726.6" y="570" fill="#fff" stroke="#fff" stroke-width="0" textLength="18" lengthAdjust="spacingAndGlyphs" filter="url(#crisp)" xml:space="preserve">0.00</text>
<line x1="722" y1="575.5" x2="726" y2="575.5" stroke="#fff" stroke-width="1"/>
<text x="726.6" y="583" fill="#fff" stroke="#fff" stroke-width="0" textLength="33" lengthAdjust="spacingAndGlyphs" filter="url(#crisp)" xml:space="preserve">0.00310</text>
<line x1="722" y1="628.5" x2="726" y2="628.5" stroke="#fff" stroke-width="1"/>
<text x="726.6" y="627" fill="#fff" stroke="#fff" stroke-width="0" textLength="33" lengthAdjust="spacingAndGlyphs" filter="url(#crisp)" xml:space="preserve">0.00072</text>
<line x1="4.5" y1="630" x2="4.5" y2="634" stroke="#fff" stroke-width="1"/>
<text x="3.7" y="642" fill="#fff" stroke="#fff" stroke-width="0" textLength="46.8" lengthAdjust="spacingAndGlyphs" filter="url(#crisp)" xml:space="preserve">9 Feb 2023</text>
<line x1="68.5" y1="630" x2="68.5" y2="634" stroke="#fff" stroke-width="1"/>
<text x="68.4" y="642" fill="#fff" stroke="#fff" stroke-width="0" textLength="54.6" lengthAdjust="spacingAndGlyphs" filter="url(#crisp)" xml:space="preserve">10 Feb 02:00</text>
<line x1="132.5" y1="630" x2="132.5" y2="634" stroke="#fff" stroke-width="1"/>
<text x="132.4" y="642" fill="#fff" stroke="#fff" stroke-width="0" textLength="54.6" lengthAdjust="spacingAndGlyphs" filter="url(#crisp)" xml:space="preserve">10 Feb 10:00</text>
<line x1="196.5" y1="630" x2="196.5" y2="634" stroke="#fff" stroke-width="1"/>
<text x="196.4" y="642" fill="#fff" stroke="#fff" stroke-width="0" textLength="54.6" lengthAdjust="spacingAndGlyphs" filter="url(#crisp)" xml:space="preserve">10 Feb 18:00</text>
<line x1="260.5" y1="630" x2="260.5" y2="634" stroke="#fff" stroke-width="1"/>
<text x="260.4" y="642" fill="#fff" stroke="#fff" stroke-width="0" textLength="54.6" lengthAdjust="spacingAndGlyphs" filter="url(#crisp)" xml:space="preserve">13 Feb 02:00</text>
<line x1="324.5" y1="630" x2="324.5" y2="634" stroke="#fff" stroke-width="1"/>
<text x="324.4" y="642" fill="#fff" stroke="#fff" stroke-width="0" textLength="54.6" lengthAdjust="spacingAndGlyphs" filter="url(#crisp)" xml:space="preserve">13 Feb 10:00</text>
<line x1="388.5" y1="630" x2="388.5" y2="634" stroke="#fff" stroke-width="1"/>
<text x="388.4" y="642" fill="#fff" stroke="#fff" stroke-width="0" textLength="54.6" lengthAdjust="spacingAndGlyphs" filter="url(#crisp)" xml:space="preserve">13 Feb 18:00</text>
<line x1="452.5" y1="630" x2="452.5" y2="634" stroke="#fff" stroke-width="1"/>
<text x="452.4" y="642" fill="#fff" stroke="#fff" stroke-width="0" textLength="54.6" lengthAdjust="spacingAndGlyphs" filter="url(#crisp)" xml:space="preserve">14 Feb 02:00</text>
<line x1="516.5" y1="630" x2="516.5" y2="634" stroke="#fff" stroke-width="1"/>
<text x="516.4" y="642" fill="#fff" stroke="#fff" stroke-width="0" textLength="54.6" lengthAdjust="spacingAndGlyphs" filter="url(#crisp)" xml:space="preserve">14 Feb 10:00</text>
<line x1="580.5" y1="630" x2="580.5" y2="634" stroke="#fff" stroke-width="1"/>
<text x="580.4" y="642" fill="#fff" stroke="#fff" stroke-width="0" textLength="54.6" lengthAdjust="spacingAndGlyphs" filter="url(#crisp)" xml:space="preserve">14 Feb 18:00</text>
<line x1="644.5" y1="630" x2="644.5" y2="634" stroke="#fff" stroke-width="1"/>
<text x="644.4" y="642" fill="#fff" stroke="#fff" stroke-width="0" textLength="54.6" lengthAdjust="spacingAndGlyphs" filter="url(#crisp)" xml:space="preserve">15 Feb 02:00</text>
</svg>
</body></html>
